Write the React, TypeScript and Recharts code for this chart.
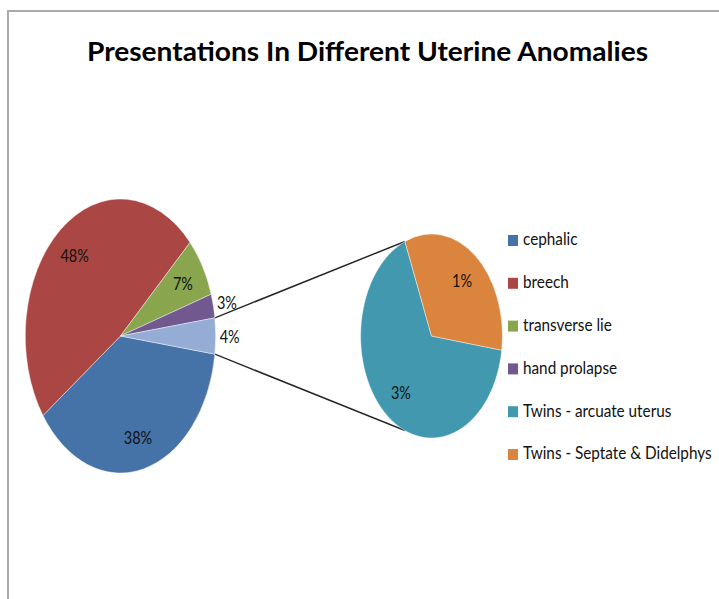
import React from "react";
import { PieChart, Pie, Cell, Customized } from "recharts";

// values (counts that give the printed percentages)
const categories = [
  "cephalic",
  "breech",
  "transverse lie",
  "hand prolapse",
  "Twins - arcuate uterus",
  "Twins - Septate & Didelphys",
];
const counts = [27, 34, 5, 2, 2, 1];
const colors = ["#4572a7", "#aa4643", "#89a54e", "#71588f", "#4198af", "#db843d"];
const OTHER_COLOR = "#95acd4";
const MAIN_COUNT = 4; // first 4 categories in the big pie, the rest go to the small one
const title = "Presentations In Different Uterine Anomalies";

const TOTAL = counts.reduce((a, b) => a + b, 0);
const otherValue = counts.slice(MAIN_COUNT).reduce((a, b) => a + b, 0);

const mainData = [
  ...categories.slice(0, MAIN_COUNT).map((name, i) => ({ name, value: counts[i], fill: colors[i] })),
  { name: "Other", value: otherValue, fill: OTHER_COLOR },
];
const subData = categories.slice(MAIN_COUNT).map((name, i) => ({
  name,
  value: counts[MAIN_COUNT + i],
  fill: colors[MAIN_COUNT + i],
}));

// layout
const PAGE_W = 719;
const PAGE_H = 599;
const SQUEEZE = 0.695; // pies are drawn as ellipses in the original
const TEXT_SQ = 0.85;
const MAIN_CX = 120.5 / SQUEEZE;
const MAIN_R = 137;
const SUB_CX = 431.5 / SQUEEZE;
const SUB_R = 102;
const CY = 336;
const SUB_START = 112;
const CONNECT_ANGLE = 112;
const FONT = "Lato, 'Open Sans', sans-serif";
const RADIAN = Math.PI / 180;

const otherHalf = (otherValue / TOTAL) * 180;

function makeLabel(inside: (p: number) => number) {
  return (props: any) => {
    const { cx, cy, midAngle, value } = props;
    const pct = (value / TOTAL) * 100;
    const r = inside(pct);
    const x = cx + r * Math.cos(-midAngle * RADIAN);
    const y = cy + r * Math.sin(-midAngle * RADIAN);
    const k = TEXT_SQ / SQUEEZE;
    return (
      <text
        x={x}
        y={y}
        transform={`translate(${x} ${y}) scale(${k} 1) translate(${-x} ${-y})`}
        textAnchor="middle"
        dominantBaseline="central"
        fontSize={17}
        fontFamily={FONT}
        fill="#111"
      >
        {Math.round(pct)}%
      </text>
    );
  };
}

const mainLabel = makeLabel((p) => (p >= 5 ? MAIN_R * 0.76 : MAIN_R + 20));
const subLabel = makeLabel(() => SUB_R * 0.7);

function Connectors() {
  const pt = (cx: number, r: number, a: number) => [cx + r * Math.cos(a * RADIAN), CY - r * Math.sin(a * RADIAN)];
  const [x1, y1] = pt(MAIN_CX, MAIN_R, otherHalf);
  const [x2, y2] = pt(SUB_CX, SUB_R, CONNECT_ANGLE);
  const [x3, y3] = pt(MAIN_CX, MAIN_R, -otherHalf);
  const [x4, y4] = pt(SUB_CX, SUB_R, -CONNECT_ANGLE);
  return (
    <g stroke="#222" strokeWidth={1.5}>
      <line x1={x1} y1={y1} x2={x2} y2={y2} />
      <line x1={x3} y1={y3} x2={x4} y2={y4} />
    </g>
  );
}

export default function App() {
  return (
    <div
      style={{
        position: "fixed",
        left: 0,
        top: 0,
        width: PAGE_W,
        height: PAGE_H,
        background: "#fff",
        overflow: "hidden",
      }}
    >
      <div
        style={{
          position: "absolute",
          left: 7,
          top: 10,
          right: 0,
          bottom: 0,
          borderTop: "2px solid #a9a9a9",
          borderLeft: "2px solid #a9a9a9",
        }}
      />
      <div
        style={{
          position: "absolute",
          left: 0,
          top: 0,
          transform: `scaleX(${SQUEEZE})`,
          transformOrigin: "0 0",
        }}
      >
        <PieChart width={PAGE_W / SQUEEZE} height={PAGE_H} margin={{ top: 0, right: 0, bottom: 0, left: 0 }}>
          <Pie
            data={mainData}
            dataKey="value"
            cx={MAIN_CX}
            cy={CY}
            outerRadius={MAIN_R}
            startAngle={-otherHalf}
            endAngle={-otherHalf - 360}
            stroke="#fff"
            strokeWidth={0.5}
            label={mainLabel}
            labelLine={false}
            isAnimationActive={false}
          >
            {mainData.map((d) => (
              <Cell key={d.name} fill={d.fill} />
            ))}
          </Pie>
          <Pie
            data={subData}
            dataKey="value"
            cx={SUB_CX}
            cy={CY}
            outerRadius={SUB_R}
            startAngle={SUB_START}
            endAngle={SUB_START + 360}
            stroke="#fff"
            strokeWidth={0.5}
            label={subLabel}
            labelLine={false}
            isAnimationActive={false}
          >
            {subData.map((d) => (
              <Cell key={d.name} fill={d.fill} />
            ))}
          </Pie>
          <Customized component={Connectors} />
        </PieChart>
      </div>
      <svg width={PAGE_W} height={PAGE_H} style={{ position: "absolute", left: 0, top: 0 }}>
        <text
          x={87}
          y={61}
          fontSize={27}
          fontWeight="bold"
          fontFamily={FONT}
          fill="#000"
          textLength={561}
          lengthAdjust="spacingAndGlyphs"
        >
          {title}
        </text>
        {categories.map((name, i) => {
          const top = 235 + i * 42.8;
          return (
            <g key={name}>
              <rect x={508} y={top} width={10} height={11} fill={colors[i]} />
              <text
                x={523}
                y={top + 10.5}
                fontSize={18}
                fontFamily={FONT}
                fill="#111"
                transform={`translate(523 0) scale(${TEXT_SQ} 1) translate(-523 0)`}
              >
                {name}
              </text>
            </g>
          );
        })}
      </svg>
    </div>
  );
}
